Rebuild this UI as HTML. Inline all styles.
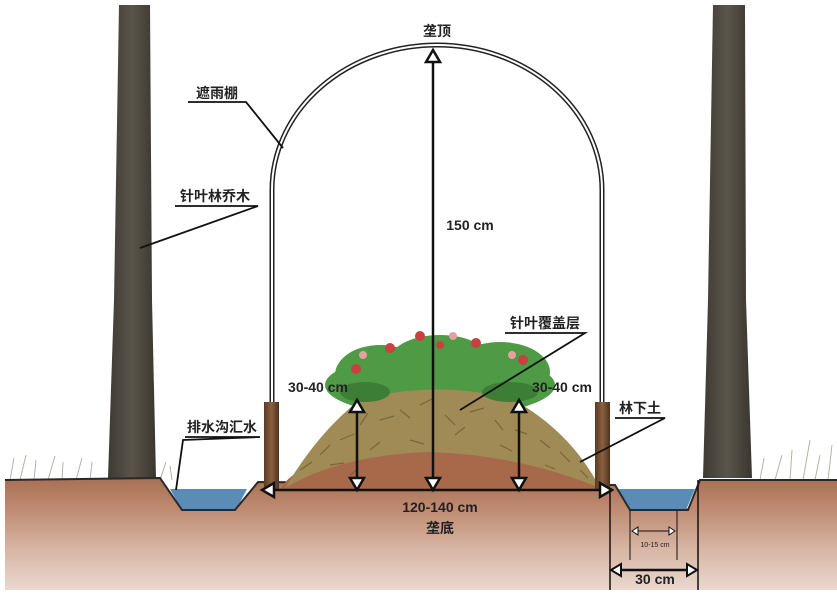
<!DOCTYPE html>
<html><head><meta charset="utf-8"><style>
html,body{margin:0;padding:0;background:#fff;}
svg{display:block}
text{font-family:"Liberation Sans","Noto Sans CJK SC",sans-serif;fill:#222;}
</style></head><body>
<svg width="837" height="596" viewBox="0 0 837 596" xmlns="http://www.w3.org/2000/svg">
<defs>
<linearGradient id="soil" x1="0" y1="0" x2="0" y2="1">
<stop offset="0" stop-color="#a86f52"/>
<stop offset="0.3" stop-color="#c08d74"/>
<stop offset="0.65" stop-color="#d8b7a6"/>
<stop offset="1" stop-color="#ead8cf"/>
</linearGradient>
<linearGradient id="trunk" x1="0" y1="0" x2="1" y2="0">
<stop offset="0" stop-color="#3e3a33"/>
<stop offset="0.5" stop-color="#5a554b"/>
<stop offset="1" stop-color="#3a362f"/>
</linearGradient>
<linearGradient id="post" x1="0" y1="0" x2="1" y2="0">
<stop offset="0" stop-color="#5a3a22"/>
<stop offset="0.5" stop-color="#8a6040"/>
<stop offset="1" stop-color="#4e321d"/>
</linearGradient>
</defs>
<!-- trees -->
<path d="M119 5 L150 5 L152 300 L156 478 L108 478 L114 300 Z" fill="url(#trunk)"/>
<path d="M713 5 L745 5 L746 300 L752 478 L703 478 L708 300 Z" fill="url(#trunk)"/>
<!-- grass -->
<g stroke="#8a9a7a" stroke-width="1" opacity="0.7">
<path d="M10 480 L14 458 M20 480 L26 455 M34 480 L36 460 M48 480 L55 456 M62 480 L63 462 M76 480 L82 458 M90 480 L92 462 M160 480 L166 462 M172 480 L170 466 M760 480 L764 458 M775 480 L782 455 M790 480 L792 450 M803 480 L810 440 M815 480 L820 455 M828 480 L832 445"/>
</g>
<!-- soil -->
<path d="M5 480 L160 478 L182 508 L235 508 L258 482 L615 485 L630 508 L688 508 L700 480 L837 480 L837 590 L5 590 Z" fill="url(#soil)"/>
<!-- water -->
<path d="M170 489 L247 489 L236 510 L182 510 Z" fill="#5b8cb8"/>
<path d="M618 489 L695 489 L686 510 L630 510 Z" fill="#5b8cb8"/>
<path d="M5 480 L160 478 L182 510 L235 510 L258 482 L615 485 L630 510 L688 510 L700 480 L837 480" fill="none" stroke="#2a2a2a" stroke-width="2"/>
<!-- bed soil -->
<path d="M280 490 Q300 450 430 448 Q570 450 598 490 Z" fill="#a8684a"/>
<!-- plants -->
<g fill="#4f9a45">
<ellipse cx="440" cy="385" rx="115" ry="32"/>
<ellipse cx="380" cy="375" rx="45" ry="30"/>
<ellipse cx="500" cy="372" rx="50" ry="30"/>
<ellipse cx="440" cy="360" rx="50" ry="25"/>
</g>
<!-- mulch -->
<path d="M285 488 Q320 430 360 400 Q430 380 510 398 Q570 430 600 488 Q520 455 430 452 Q340 455 285 488 Z" fill="#a08a55"/>
<g stroke="#6e6034" stroke-width="1.2" opacity="0.8">
<path d="M300 470 l12 -8 M320 455 l10 -10 M340 440 l14 -6 M360 425 l8 -12 M380 420 l14 -4 M400 410 l10 8 M420 405 l12 -6 M445 415 l10 10 M470 412 l14 -4 M495 420 l8 10 M515 430 l12 4 M540 440 l10 8 M560 452 l10 10 M580 470 l8 8 M330 465 l14 -2 M370 450 l10 -8 M410 440 l14 4 M455 435 l10 -8 M500 445 l12 6 M545 465 l10 4 M350 475 l8 -6"/>
</g>
<g fill="#3d7e36">
<ellipse cx="365" cy="392" rx="25" ry="10"/><ellipse cx="510" cy="392" rx="28" ry="10"/>
</g>
<g fill="#c94040">
<circle cx="356" cy="369" r="5"/><circle cx="390" cy="348" r="5"/><circle cx="420" cy="336" r="5"/><circle cx="476" cy="343" r="5"/><circle cx="523" cy="360" r="5"/><circle cx="440" cy="345" r="4"/>
</g>
<g fill="#e5a0a0"><circle cx="363" cy="355" r="4"/><circle cx="453" cy="336" r="4"/><circle cx="512" cy="355" r="4"/></g>
<!-- posts -->
<rect x="264" y="402" width="15" height="88" fill="url(#post)"/>
<rect x="595" y="402" width="15" height="88" fill="url(#post)"/>
<!-- arch -->
<path d="M272 402 L272 190 A165 145 0 0 1 602 190 L602 402" fill="none" stroke="#222" stroke-width="5"/>
<path d="M272 402 L272 190 A165 145 0 0 1 602 190 L602 402" fill="none" stroke="#fff" stroke-width="2"/>
<!-- dimension lines -->
<g stroke="#111" stroke-width="2.5" fill="#fff">
<line x1="433" y1="58" x2="433" y2="478"/>
<line x1="264" y1="490" x2="610" y2="490"/>
<line x1="357" y1="410" x2="357" y2="478"/>
<line x1="519" y1="410" x2="519" y2="478"/>
<polygon points="433,50 426,62 440,62"/>
<polygon points="433,490 426,478 440,478"/>
<polygon points="357,400 350,412 364,412"/>
<polygon points="357,490 350,478 364,478"/>
<polygon points="519,400 512,412 526,412"/>
<polygon points="519,490 512,478 526,478"/>
<polygon points="262,490 274,483 274,497"/>
<polygon points="612,490 600,483 600,497"/>
</g>
<!-- ditch dims -->
<g stroke="#111" fill="#fff">
<line x1="610" y1="490" x2="610" y2="590" stroke-width="1.5"/>
<line x1="698" y1="480" x2="698" y2="590" stroke-width="1.5"/>
<line x1="630" y1="510" x2="630" y2="560" stroke-width="1"/>
<line x1="677" y1="510" x2="677" y2="560" stroke-width="1"/>
<line x1="634" y1="531" x2="673" y2="531" stroke-width="1"/>
<polygon points="632,531 638,527 638,535" stroke-width="1"/>
<polygon points="675,531 669,527 669,535" stroke-width="1"/>
<line x1="614" y1="570" x2="694" y2="570" stroke-width="2.5"/>
<polygon points="611,570 621,564 621,576" stroke-width="2"/>
<polygon points="697,570 687,564 687,576" stroke-width="2"/>
</g>
<!-- leaders -->
<g stroke="#111" stroke-width="1.8" fill="none">
<polyline points="188,102 246,102 283,148"/>
<polyline points="175,206 258,206 140,248"/>
<polyline points="505,333 585,333 460,410"/>
<polyline points="615,418 665,418 580,462"/>
<polyline points="185,437 260,437 183,440 176,490"/>
</g>
<!-- labels -->
<g font-size="14" font-weight="bold">
<text x="437" y="36" text-anchor="middle">垄顶</text>
<text x="217" y="98" text-anchor="middle">遮雨棚</text>
<text x="215" y="201" text-anchor="middle">针叶林乔木</text>
<text x="545" y="328" text-anchor="middle">针叶覆盖层</text>
<text x="640" y="413" text-anchor="middle">林下土</text>
<text x="222" y="432" text-anchor="middle">排水沟汇水</text>
<text x="440" y="533" text-anchor="middle">垄底</text>
<text x="470" y="230" text-anchor="middle">150 cm</text>
<text x="318" y="392" text-anchor="middle">30-40 cm</text>
<text x="562" y="392" text-anchor="middle">30-40 cm</text>
<text x="440" y="512" text-anchor="middle">120-140 cm</text>
<text x="655" y="584" text-anchor="middle">30 cm</text>
<text x="655" y="547" text-anchor="middle" font-size="7" font-weight="normal">10-15 cm</text>
</g>
</svg>
</body></html>
